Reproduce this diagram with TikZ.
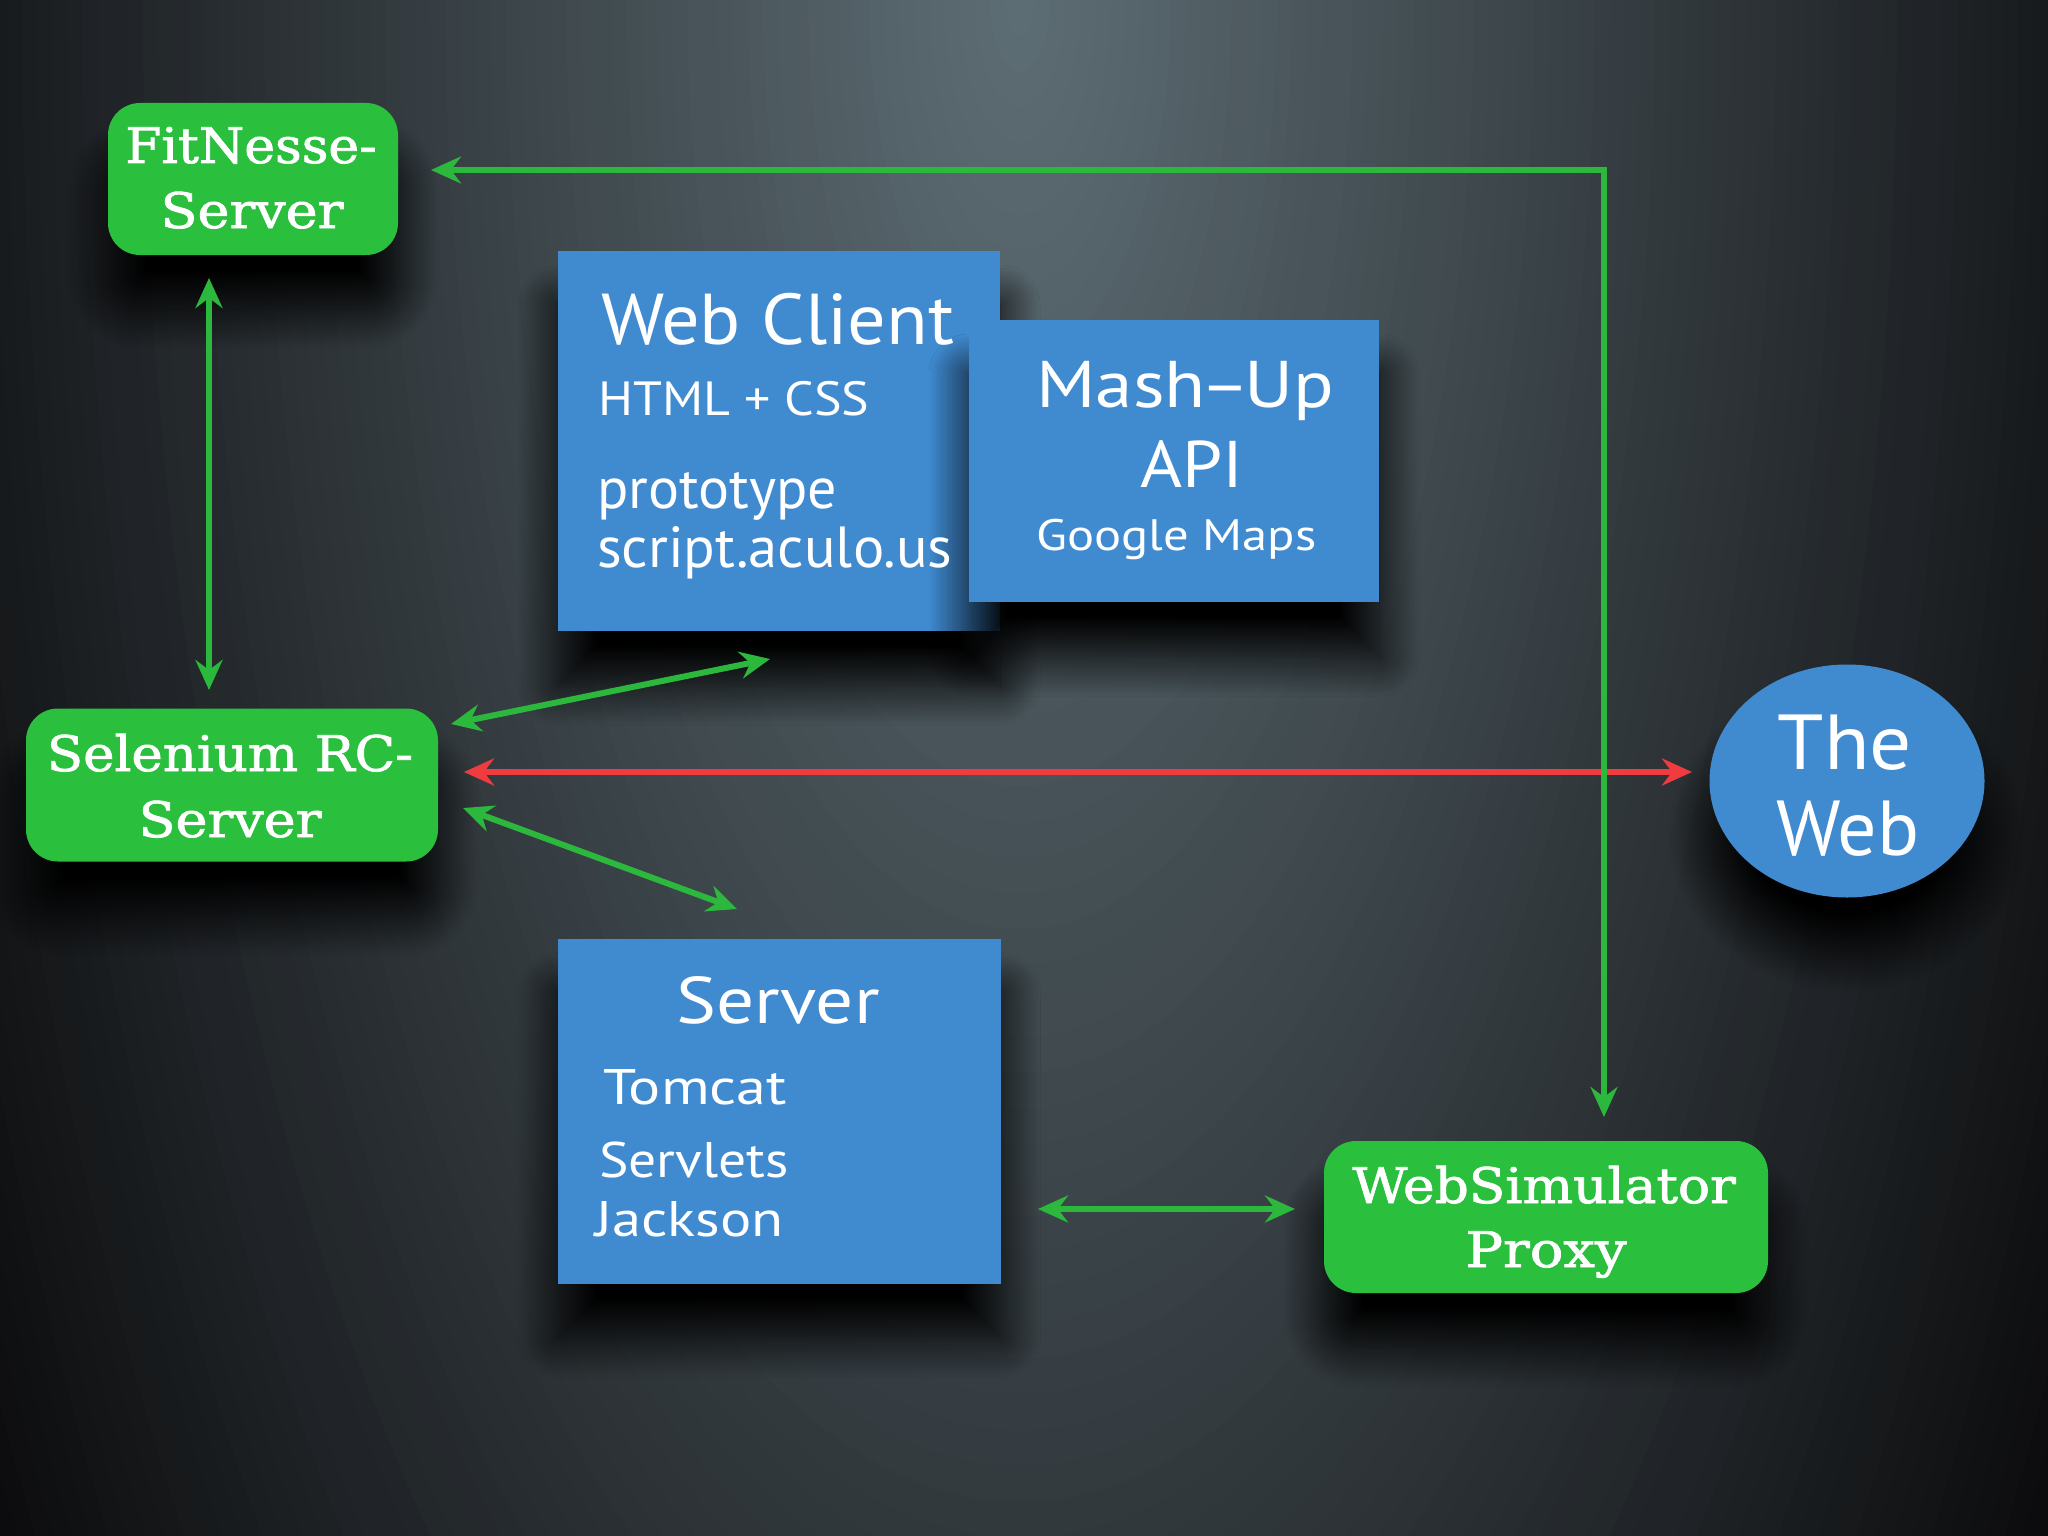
\documentclass[tikz,border=0pt]{standalone}
\usepackage{fontspec}
\usepackage{graphicx}
\newfontfamily\boxsans{PT Sans}
\newfontfamily\typew[FakeBold=1.5]{DejaVu Serif}
\usetikzlibrary{arrows.meta,shapes.geometric,shadows.blur}
\definecolor{gbox}{RGB}{42,192,62}
\definecolor{garrow}{RGB}{44,184,60}
\definecolor{bbox}{RGB}{64,138,208}
\definecolor{rarrow}{RGB}{240,60,62}
\definecolor{bgA}{RGB}{94,110,117}
\definecolor{bgE}{RGB}{12,12,14}
\newcommand\hstretch[2]{\scalebox{#1}[1]{#2}}
\tikzset{
  shadowed/.style={blur shadow={shadow xshift=0pt, shadow yshift=-54pt, shadow blur radius=40pt, shadow opacity=100, shadow blur steps=32}},
  greenbox/.style={shadowed, fill=gbox, rounded corners=32pt, inner sep=0pt, draw=none},
  bluebox/.style={shadowed, fill=bbox, inner sep=0pt, draw=none},
  webell/.style={shadowed, ellipse, fill=bbox, inner sep=0pt, draw=none},
  gtext/.style={text=white, inner sep=0pt, font={\typew\fontsize{49}{56}\selectfont}},
  btext/.style={text=white, inner sep=0pt},
  conn/.style={line width=6pt, >={Stealth[length=30pt,width=27pt,inset=10pt]}, <->},
  gconn/.style={conn, draw=garrow},
  rconn/.style={conn, draw=rarrow},
}
\begin{document}
\begin{tikzpicture}[x=1pt,y=-1pt]
\useasboundingbox (0,0) rectangle (2048,1536);
\begin{scope}
  \clip (0,0) rectangle (2048,1536);
  \fill[bgE] (0,0) rectangle (2048,1536);
  \foreach \i in {80,79,...,1}{
    \pgfmathsetmacro\tfrac{\i/80}
    \pgfmathtruncatemacro\pmix{round(100*(1-\tfrac))}
    \fill[bgA!\pmix!bgE] (1020,0) ellipse [x radius={1210*\tfrac}, y radius={2860*\tfrac}];
  }
\end{scope}

% boxes
\node[greenbox, minimum width=290pt, minimum height=152pt] (fit) at (253,179) {};
\node[greenbox, minimum width=412pt, minimum height=153pt] (sel) at (232,785) {};
\node[bluebox, minimum width=442pt, minimum height=380pt] (wc) at (779,441) {};
\node[bluebox, minimum width=410pt, minimum height=282pt] (mu) at (1174,461) {};
\node[webell, minimum width=275pt, minimum height=233pt] (web) at (1847,781) {};
\node[bluebox, minimum width=443pt, minimum height=345pt] (srv) at (779,1111) {};
\node[greenbox, minimum width=444pt, minimum height=152pt] (ws) at (1546,1217) {};

% texts
\node[gtext, anchor=base] (fit1) at (251,163) {\hstretch{1.06}{FitNesse-}};
\node[gtext, anchor=base] (fit2) at (252,228) {\hstretch{1.10}{Server}};
\node[gtext, anchor=base] (sel1) at (230,771) {\hstretch{1.08}{Selenium RC-}};
\node[gtext, anchor=base] (sel2) at (230,837) {\hstretch{1.10}{Server}};
\node[gtext, anchor=base] (ws1) at (1544,1203) {\hstretch{1.09}{WebSimulator}};
\node[gtext, anchor=base] (ws2) at (1546,1267) {\hstretch{1.14}{Proxy}};

\node[btext, anchor=base west, font={\boxsans\fontsize{72}{80}\selectfont}] (wc1) at (601,344) {\hstretch{1.06}{Web Client}};
\node[btext, anchor=base west, font={\boxsans\fontsize{48}{56}\selectfont}] (wc2) at (598,415) {\hstretch{1.085}{HTML + CSS}};
\node[btext, anchor=base west, font={\boxsans\fontsize{58}{64}\selectfont}] (wc3) at (597,508) {prototype};
\node[btext, anchor=base west, font={\boxsans\fontsize{58}{64}\selectfont}] (wc4) at (597,567) {\hstretch{1.01}{script.aculo.us}};

\node[btext, anchor=base, font={\boxsans\fontsize{66}{72}\selectfont}] (mu1) at (1185,407) {\hstretch{1.14}{Mash\kern-5pt–\kern-5pt Up}};
\node[btext, anchor=base, font={\boxsans\fontsize{66}{72}\selectfont}] (mu2) at (1192,487) {\hstretch{1.09}{API}};
\node[btext, anchor=base west, font={\boxsans\fontsize{44}{50}\selectfont}] (mu3) at (1036,550) {\hstretch{1.15}{Google Maps}};

\node[btext, anchor=base, font={\boxsans\fontsize{66}{72}\selectfont}] (srv1) at (778,1023) {\hstretch{1.14}{Server}};
\node[btext, anchor=base west, font={\boxsans\fontsize{50}{56}\selectfont}] (srv2) at (603,1104) {\hstretch{1.2}{Tomcat}};
\node[btext, anchor=base west, font={\boxsans\fontsize{50}{56}\selectfont}] (srv3) at (599,1177) {\hstretch{1.11}{Servlets}};
\node[btext, anchor=base west, font={\boxsans\fontsize{50}{56}\selectfont}] (srv4) at (595,1236) {\hstretch{1.17}{Jackson}};

\node[btext, anchor=base, font={\boxsans\fontsize{78}{84}\selectfont}] (web1) at (1845,769) {\hstretch{1.07}{The}};
\node[btext, anchor=base, font={\boxsans\fontsize{78}{84}\selectfont}] (web2) at (1848,855) {Web};

% connector end points
\coordinate (fitR) at (431,170);
\coordinate (corner) at (1604,170);
\coordinate (wsT) at (1604,1117);
\coordinate (fitB) at (209,278);
\coordinate (selT) at (209,690);
\coordinate (selA) at (451,724);
\coordinate (wcB) at (770,659);
\coordinate (selR) at (464,772);
\coordinate (webL) at (1692,772);
\coordinate (selC) at (463,808);
\coordinate (srvT) at (737,909);
\coordinate (srvR) at (1038,1209);
\coordinate (wsL) at (1295,1209);

\draw[rconn] (selR) -- (webL);
\draw[gconn] (fitR) -- (corner) -- (wsT);
\draw[gconn] (fitB) -- (selT);
\draw[gconn] (selA) -- (wcB);
\draw[gconn] (selC) -- (srvT);
\draw[gconn] (srvR) -- (wsL);
\end{tikzpicture}
\end{document}
